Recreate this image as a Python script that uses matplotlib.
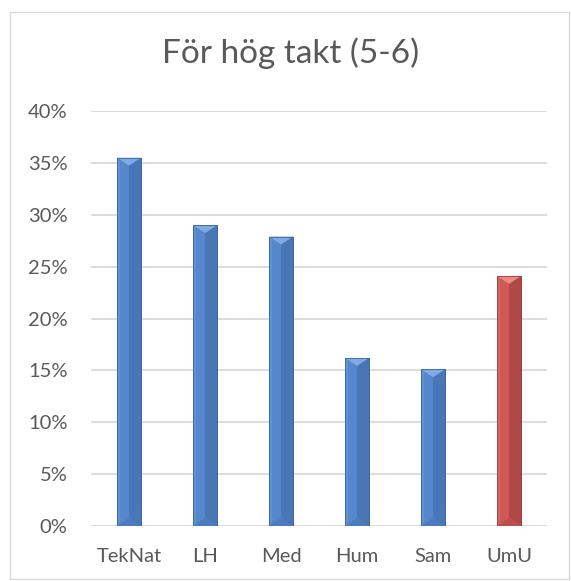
import matplotlib
matplotlib.use("Agg")
import matplotlib.pyplot as plt
from matplotlib.patches import Polygon, Rectangle
from matplotlib.ticker import PercentFormatter

categories = ["TekNat", "LH", "Med", "Hum", "Sam", "UmU"]
values = [0.355, 0.290, 0.279, 0.162, 0.151, 0.241]
highlight = ["blue", "blue", "blue", "blue", "blue", "red"]
title = "För hög takt (5-6)"
yticks = [0, 0.05, 0.10, 0.15, 0.20, 0.25, 0.30, 0.35, 0.40]

palettes = {
    "blue": dict(body="#5384CA", left="#5587CC", right="#4977B6", top="#7FAAE6",
                 bottom="#4B7CBD", edge="#3E6699", strip="#5E92D6"),
    "red": dict(body="#C85653", left="#CD5A57", right="#B04946", top="#EE8784",
                bottom="#BB4F4C", edge="#9B3E3B", strip="#D66562"),
}

plt.rcParams["font.family"] = ["Lato", "DejaVu Sans"]
fig = plt.figure(figsize=(5.71, 5.81), dpi=100)
fig.patch.set_facecolor("white")
fig.add_artist(Rectangle((10 / 571, 2 / 581), 559 / 571, 567 / 581, transform=fig.transFigure,
                         fill=False, edgecolor="#D9D9D9", linewidth=1.0))

ax = fig.add_axes([91 / 571, 1 - 526 / 581, 456 / 571, 415 / 581])
ax.set_xlim(-0.5, len(categories) - 0.5)
ax.set_ylim(0, 0.40)
ax.set_yticks(yticks)
ax.yaxis.set_major_formatter(PercentFormatter(1.0, decimals=0))
ax.set_xticks(range(len(categories)))
ax.set_xticklabels(categories)
for s in ax.spines.values():
    s.set_visible(False)
ax.grid(axis="y", color="#D9D9D9", linewidth=1.3)
ax.set_axisbelow(True)
ax.tick_params(axis="both", length=0, labelsize=14.5, colors="#595959")
ax.tick_params(axis="y", pad=17)
ax.tick_params(axis="x", pad=16)

w = 0.315
ppd = 415 / 0.40  # pixels per data unit (y)
ppx = 456 / len(categories)  # pixels per category
tri_h = 8 / ppd
for i, (v, c) in enumerate(zip(values, highlight)):
    p = palettes[c]
    x0, x1 = i - w / 2, i + w / 2
    xm = i
    ax.bar(i, v, width=w, color=p["body"], edgecolor=p["edge"], linewidth=0.6, zorder=2)
    ax.add_patch(Polygon([(x0, 0), (x0, v), (xm, v - tri_h), (xm, tri_h)], closed=True,
                         facecolor=p["left"], edgecolor="none", zorder=3))
    ax.add_patch(Polygon([(xm, tri_h), (xm, v - tri_h), (x1, v), (x1, 0)], closed=True,
                         facecolor=p["right"], edgecolor="none", zorder=3))
    sw = 3 / ppx
    ax.add_patch(Polygon([(x0, 0), (x0, v), (x0 + sw, v - tri_h * 0.4), (x0 + sw, tri_h * 0.4)],
                         closed=True, facecolor=p["strip"], edgecolor="none", zorder=3))
    ax.add_patch(Polygon([(x0, v), (x1, v), (xm, v - tri_h)], closed=True,
                         facecolor=p["top"], edgecolor="none", zorder=4))
    ax.add_patch(Polygon([(x0, 0), (x1, 0), (xm, tri_h)], closed=True,
                         facecolor=p["bottom"], edgecolor="none", zorder=4))
    ax.add_patch(Rectangle((x0, 0), w, v, facecolor="none", edgecolor=p["edge"],
                           linewidth=0.6, zorder=5))

fig.text(291 / 571, 1 - 53 / 581, title, ha="center", va="center", fontsize=24, color="#595959")

fig.savefig("out.png", dpi=100, facecolor="white")
